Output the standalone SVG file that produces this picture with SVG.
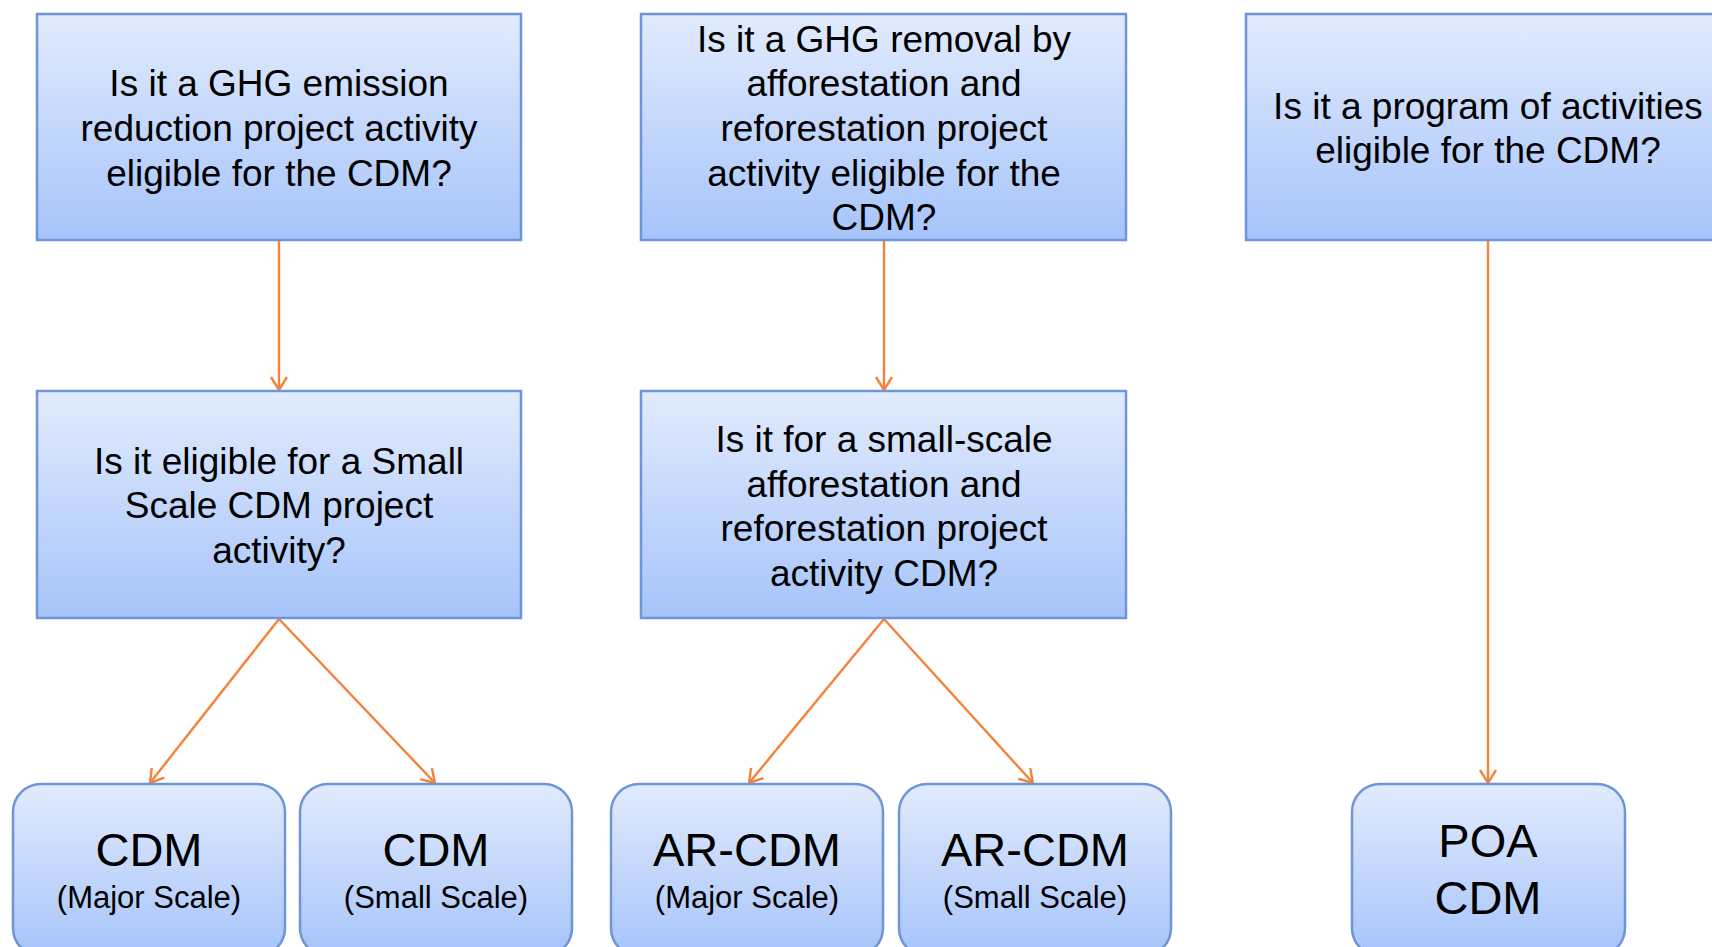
<svg xmlns="http://www.w3.org/2000/svg" width="1712" height="947" viewBox="0 0 1712 947">
<style>
.box{stroke:#6e95d8;stroke-width:2.5;fill:url(#g)}
.t{font-family:"Liberation Sans",Arial,sans-serif;font-size:37px;fill:#000;text-anchor:middle}
.big{font-family:"Liberation Sans",Arial,sans-serif;font-size:47px;fill:#000;text-anchor:middle}
.sm{font-family:"Liberation Sans",Arial,sans-serif;font-size:31px;fill:#000;text-anchor:middle}
.c{stroke:#f5823a;stroke-width:2.4;fill:none;marker-end:url(#a)}
</style>
<defs>
<linearGradient id="g" x1="0" y1="0" x2="0" y2="1">
<stop offset="0" stop-color="#e2ebfd"/>
<stop offset="1" stop-color="#a6c4fa"/>
</linearGradient>
<marker id="a" markerUnits="userSpaceOnUse" markerWidth="30" markerHeight="30" refX="15" refY="15" orient="auto" viewBox="0 0 30 30">
<path d="M2,7 L15,15 L2,23" fill="none" stroke="#f5823a" stroke-width="2.4"/>
</marker>
</defs>
<rect width="1712" height="947" fill="#fff"/>
<g id="connectors">
<line class="c" x1="279" y1="241" x2="279" y2="390"/>
<line class="c" x1="884" y1="241" x2="884" y2="390"/>
<line class="c" x1="1488" y1="241" x2="1488" y2="783"/>
<line class="c" x1="279" y1="619" x2="150" y2="783"/>
<line class="c" x1="279" y1="619" x2="435" y2="783"/>
<line class="c" x1="884" y1="619" x2="749" y2="783"/>
<line class="c" x1="884" y1="619" x2="1033" y2="783"/>
</g>
<g id="q1">
<rect class="box" x="37" y="14" width="484" height="226"/>
<text class="t" x="279" y="96">Is it a GHG emission</text>
<text class="t" x="279" y="141">reduction project activity</text>
<text class="t" x="279" y="186">eligible for the CDM?</text>
</g>
<g id="q2">
<rect class="box" x="641" y="14" width="485" height="226"/>
<text class="t" x="884" y="52">Is it a GHG removal by</text>
<text class="t" x="884" y="96">afforestation and</text>
<text class="t" x="884" y="141">reforestation project</text>
<text class="t" x="884" y="186">activity eligible for the</text>
<text class="t" x="884" y="230">CDM?</text>
</g>
<g id="q3">
<rect class="box" x="1246" y="14" width="484" height="226"/>
<text class="t" x="1488" y="119">Is it a program of activities</text>
<text class="t" x="1488" y="163">eligible for the CDM?</text>
</g>
<g id="q4">
<rect class="box" x="37" y="391" width="484" height="227"/>
<text class="t" x="279" y="474">Is it eligible for a Small</text>
<text class="t" x="279" y="518">Scale CDM project</text>
<text class="t" x="279" y="563">activity?</text>
</g>
<g id="q5">
<rect class="box" x="641" y="391" width="485" height="227"/>
<text class="t" x="884" y="452">Is it for a small-scale</text>
<text class="t" x="884" y="497">afforestation and</text>
<text class="t" x="884" y="541">reforestation project</text>
<text class="t" x="884" y="586">activity CDM?</text>
</g>
<g id="cdm-major">
<rect class="box" x="13" y="784" width="272" height="172" rx="28"/>
<text class="big" x="149" y="866">CDM</text>
<text class="sm" x="149" y="908">(Major Scale)</text>
</g>
<g id="cdm-small">
<rect class="box" x="300" y="784" width="272" height="172" rx="28"/>
<text class="big" x="436" y="866">CDM</text>
<text class="sm" x="436" y="908">(Small Scale)</text>
</g>
<g id="ar-major">
<rect class="box" x="611" y="784" width="272" height="172" rx="28"/>
<text class="big" x="747" y="866">AR-CDM</text>
<text class="sm" x="747" y="908">(Major Scale)</text>
</g>
<g id="ar-small">
<rect class="box" x="899" y="784" width="272" height="172" rx="28"/>
<text class="big" x="1035" y="866">AR-CDM</text>
<text class="sm" x="1035" y="908">(Small Scale)</text>
</g>
<g id="poa">
<rect class="box" x="1352" y="784" width="273" height="172" rx="28"/>
<text class="big" x="1488" y="857">POA</text>
<text class="big" x="1488" y="914">CDM</text>
</g>
</svg>
